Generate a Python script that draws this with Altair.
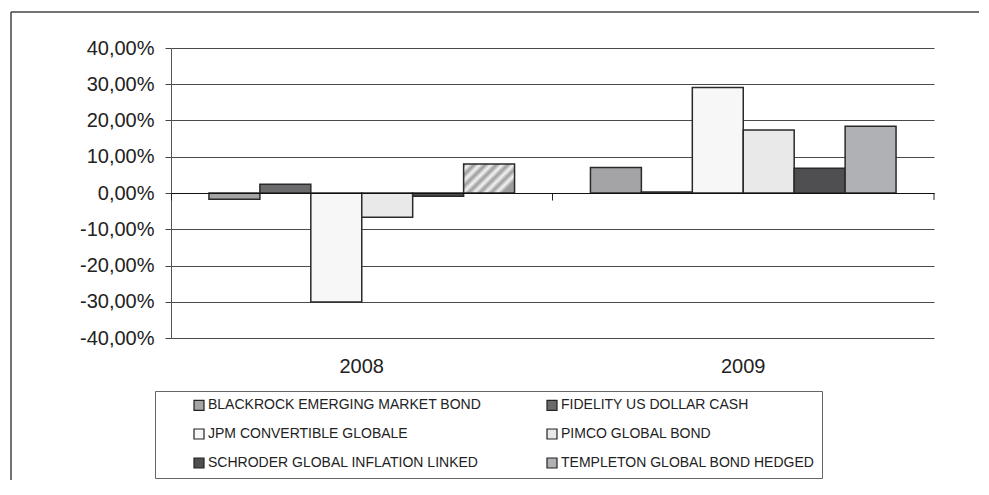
import altair as alt
import pandas as pd

years = ["2008", "2009"]
funds = [
    "BLACKROCK EMERGING MARKET BOND",
    "FIDELITY US DOLLAR CASH",
    "JPM CONVERTIBLE GLOBALE",
    "PIMCO GLOBAL BOND",
    "SCHRODER GLOBAL INFLATION LINKED",
    "TEMPLETON GLOBAL BOND HEDGED",
]
ret_2008 = [-0.0175, 0.024, -0.301, -0.067, -0.009, 0.080]
ret_2009 = [0.0705, 0.003, 0.291, 0.174, 0.068, 0.184]
fund_colors = ["#a4a4a7", "#6b6b6d", "#f7f7f7", "#e9e9e9", "#4f4f51", "#b0b1b4"]
y_ticks = [-0.4, -0.3, -0.2, -0.1, 0.0, 0.1, 0.2, 0.3, 0.4]

rows = []
for yr, vals in zip(years, [ret_2008, ret_2009]):
    for f, v in zip(funds, vals):
        rows.append({"year": yr, "fund": f, "value": v})
df = pd.DataFrame(rows)

# legend grid is filled column by column: reorder so rows read pairwise
legend_order = [funds[i] for i in (0, 2, 4, 1, 3, 5)]
legend_colors = [fund_colors[i] for i in (0, 2, 4, 1, 3, 5)]

FONT = "Liberation Sans"
W, H = 763, 290

# diagonal hatch approximation for the hatched Templeton 2008 bar
stops = []
n = 6
for k in range(2 * n + 1):
    stops.append({"offset": k / (2 * n), "color": "#9c9c9c" if k % 2 == 0 else "#f4f4f4"})
hatch = {"gradient": "linear", "x1": 0, "y1": 0, "x2": 1, "y2": 0.57, "stops": stops}

x_scale = alt.Scale(paddingInner=0, paddingOuter=0)
xo_scale = alt.Scale(paddingInner=0, paddingOuter=0.745)
y_scale = alt.Scale(domain=[-0.4, 0.4], nice=False, zero=False)

label_expr = "replace(replace(format(datum.value, '.2%'), '.', ','), '\u2212', '-')"
y_axis = alt.Axis(title=None, values=y_ticks, labelExpr=label_expr,
                  labelOverlap=False, labelFontSize=20, labelFont=FONT,
                  labelColor="#222", labelPadding=11, tickSize=6,
                  tickColor="#444", domainColor="#555", grid=True,
                  gridColor="#4a4a4a", gridWidth=1)

base = alt.Chart(df)

bars = base.mark_bar(stroke="#2a2a2a", strokeWidth=1.5).encode(
    x=alt.X("year:N", sort=years, scale=x_scale,
            axis=alt.Axis(title=None, orient="bottom", ticks=False, domain=False,
                          labelAngle=0, labelFontSize=20, labelFont=FONT,
                          labelColor="#222", labelPadding=18)),
    xOffset=alt.XOffset("fund:N", sort=funds, scale=xo_scale),
    y=alt.Y("value:Q", scale=y_scale, axis=y_axis),
    color=alt.condition(
        "datum.year == '2008' && datum.fund == 'TEMPLETON GLOBAL BOND HEDGED'",
        alt.value(hatch),
        alt.Color("fund:N",
                  scale=alt.Scale(domain=legend_order, range=legend_colors),
                  legend=alt.Legend(
                      orient="none", legendX=-16, legendY=343, columns=2,
                      title=None, symbolType="square", symbolSize=100,
                      symbolStrokeColor="#222", symbolStrokeWidth=1.2,
                      symbolOffset=30, labelOffset=2,
                      labelFontSize=14, labelFont=FONT, labelColor="#222",
                      labelLimit=600, columnPadding=33, rowPadding=13,
                      padding=7, strokeColor="#666", fillColor="white"))),
)

zero_axis = base.mark_bar(opacity=0).encode(
    x=alt.X("year:N", sort=years, scale=x_scale,
            axis=alt.Axis(title=None, orient="bottom", offset=-145, labels=False,
                          ticks=True, tickSize=7, tickColor="#222",
                          bandPosition=0, domain=True, domainColor="#111",
                          domainWidth=1, grid=False, zindex=1)),
    xOffset=alt.XOffset("fund:N", sort=funds, scale=xo_scale),
    y=alt.Y("value:Q", scale=y_scale, axis=y_axis),
)

end_tick = alt.Chart(pd.DataFrame({"value": [0.0]})).mark_rule(color="#222", strokeWidth=1).encode(
    x=alt.value(W), y=alt.Y("value:Q", scale=y_scale, axis=y_axis), y2=alt.value(H / 2 + 7)
)

# outer frame: only its top and left edges fall inside the picture
frame_top = alt.Chart(pd.DataFrame({"v": [0]})).mark_rule(color="#444", strokeWidth=1.5).encode(
    x=alt.value(-160), x2=alt.value(817), y=alt.value(-36)
)
frame_left = alt.Chart(pd.DataFrame({"v": [0]})).mark_rule(color="#444", strokeWidth=1.5).encode(
    x=alt.value(-160), y=alt.value(-36), y2=alt.value(440)
)

chart = alt.layer(frame_top, frame_left, bars, zero_axis, end_tick).resolve_axis(
    x="independent"
).properties(
    width=W, height=H,
    autosize=alt.AutoSizeParams(type="none"),
    padding={"left": 163, "top": 40, "right": 45, "bottom": 142},
).configure_view(stroke=None)

chart.save("out.html", embed_options={"renderer": "svg", "actions": False})
